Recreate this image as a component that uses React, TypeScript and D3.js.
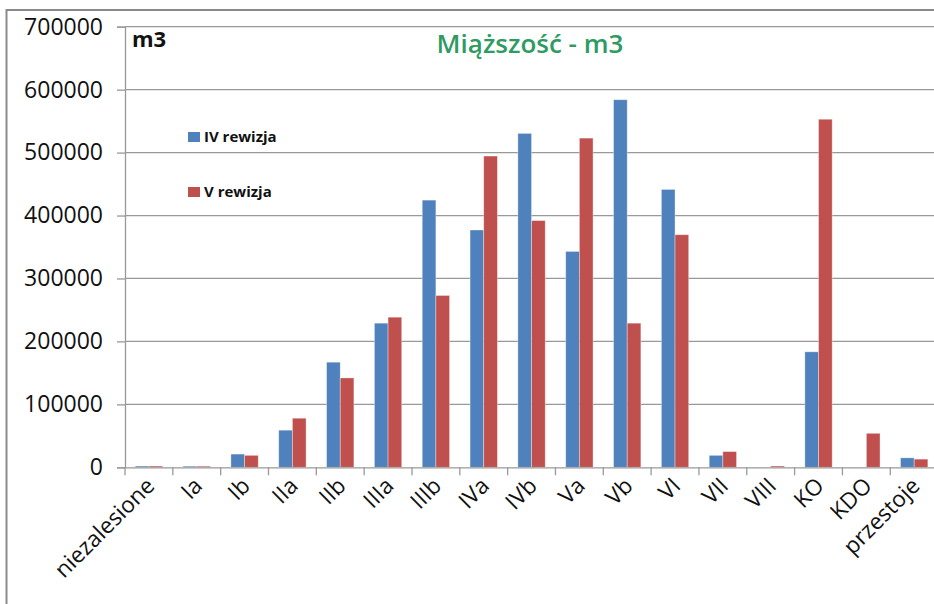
import React, { useEffect, useRef } from 'react';
import * as d3 from 'd3';

const categories = ['niezalesione', 'Ia', 'Ib', 'IIa', 'IIb', 'IIIa', 'IIIb', 'IVa', 'IVb', 'Va', 'Vb', 'VI', 'VII', 'VIII', 'KO', 'KDO', 'przestoje'];
const rewizjaIV = [2000, 1800, 21000, 59000, 167000, 229000, 424500, 377000, 530500, 343000, 584000, 441500, 19000, 0, 183500, 0, 15000];
const rewizjaV = [2000, 1800, 19000, 78000, 142000, 238500, 273000, 494500, 392000, 523000, 229000, 369500, 25000, 2000, 553000, 54000, 13000];
const seriesNames = ['IV rewizja', 'V rewizja'];
const seriesColors = ['#4F81BD', '#C0504D'];
const yTicks = [0, 100000, 200000, 300000, 400000, 500000, 600000, 700000];

const FONT = '"Open Sans", "Liberation Sans", sans-serif';

const App = () => {
  const svgRef = useRef<SVGSVGElement>(null);

  useEffect(() => {
    const svg = d3.select(svgRef.current);
    svg.selectAll('*').remove();

    const left = 125;
    const right = 938.1;
    const top = 26.7;
    const bottom = 467.3;

    const x = d3.scaleBand().domain(categories).range([left, right]).paddingInner(0).paddingOuter(0);
    const xSub = d3.scaleBand().domain(seriesNames).range([0, x.bandwidth()]).paddingInner(0).paddingOuter(0.75);
    const y = d3.scaleLinear().domain([0, 700000]).range([bottom, top]);

    // outer chart frame
    svg.append('path')
      .attr('d', 'M6.5,604V10H934')
      .attr('fill', 'none')
      .attr('stroke', '#8a8a8a')
      .attr('stroke-width', 2);

    // gridlines
    svg.append('g')
      .selectAll('line')
      .data(yTicks.filter(d => d > 0))
      .enter().append('line')
      .attr('x1', left)
      .attr('x2', 934)
      .attr('y1', d => y(d))
      .attr('y2', d => y(d))
      .attr('stroke', '#999')
      .attr('stroke-width', 1.3);

    // bars
    const data = categories.map((c, i) => ({ c, vals: [rewizjaIV[i], rewizjaV[i]] }));
    const groups = svg.append('g')
      .selectAll('g')
      .data(data)
      .enter().append('g')
      .attr('transform', d => `translate(${x(d.c)},0)`);

    groups.selectAll('rect')
      .data(d => d.vals.map((v, k) => ({ v, k })))
      .enter().append('rect')
      .filter(d => d.v > 0)
      .attr('x', d => xSub(seriesNames[d.k]) as number)
      .attr('width', xSub.bandwidth())
      .attr('y', d => y(d.v))
      .attr('height', d => y(0) - y(d.v))
      .attr('fill', d => seriesColors[d.k])
      .attr('stroke', 'rgba(255,255,255,0.45)')
      .attr('stroke-width', 0.8);

    // y axis
    const yAxis = d3.axisLeft(y).tickValues(yTicks).tickSize(8).tickPadding(14).tickFormat(d3.format('d'));
    const yg = svg.append('g')
      .attr('transform', `translate(${left},0)`)
      .call(yAxis);
    yg.select('.domain').attr('stroke', '#999').attr('stroke-width', 1.3);
    yg.selectAll('line').attr('stroke', '#999').attr('stroke-width', 1.3);
    yg.selectAll('text')
      .attr('font-family', FONT)
      .attr('font-size', 23)
      .attr('fill', '#111');

    // x axis
    const xAxis = d3.axisBottom(x).tickSize(0).tickFormat(() => '');
    const xg = svg.append('g')
      .attr('transform', `translate(0,${bottom})`)
      .call(xAxis);
    xg.select('.domain').attr('stroke', '#999').attr('stroke-width', 1.3);

    // category separators
    svg.append('g')
      .selectAll('line')
      .data(categories)
      .enter().append('line')
      .attr('x1', d => x(d) as number)
      .attr('x2', d => x(d) as number)
      .attr('y1', bottom)
      .attr('y2', bottom + 8)
      .attr('stroke', '#999')
      .attr('stroke-width', 1.3);

    // category labels
    svg.append('g')
      .selectAll('text')
      .data(categories)
      .enter().append('text')
      .attr('transform', d => `translate(${(x(d) as number) + x.bandwidth() / 2 - 5},${bottom + 8}) rotate(-45)`)
      .attr('text-anchor', 'end')
      .attr('dy', '0.75em')
      .attr('font-family', FONT)
      .attr('font-size', 22.5)
      .attr('fill', '#111')
      .text(d => d);

    // title
    svg.append('text')
      .attr('x', 530)
      .attr('y', 53)
      .attr('text-anchor', 'middle')
      .attr('font-family', FONT)
      .attr('font-size', 26)
      .attr('font-weight', 600)
      .attr('fill', '#2E9B62')
      .text('Miąższość - m3');

    // unit label
    svg.append('text')
      .attr('x', 132)
      .attr('y', 47)
      .attr('font-family', FONT)
      .attr('font-size', 22)
      .attr('font-weight', 700)
      .attr('fill', '#111')
      .text('m3');

    // legend
    const legend = svg.append('g')
      .selectAll('g')
      .data(seriesNames)
      .enter().append('g')
      .attr('transform', (_, i) => `translate(188,${132 + i * 55})`);
    legend.append('rect')
      .attr('width', 12)
      .attr('height', 10)
      .attr('fill', (_, i) => seriesColors[i]);
    legend.append('text')
      .attr('x', 16)
      .attr('y', 10)
      .attr('font-family', FONT)
      .attr('font-size', 15)
      .attr('font-weight', 700)
      .attr('fill', '#111')
      .text(d => d);
  }, []);

  return (
    <svg
      ref={svgRef}
      width={934}
      height={604}
      style={{ position: 'absolute', left: 0, top: 0, background: '#fff' }}
    />
  );
};

export default App;
